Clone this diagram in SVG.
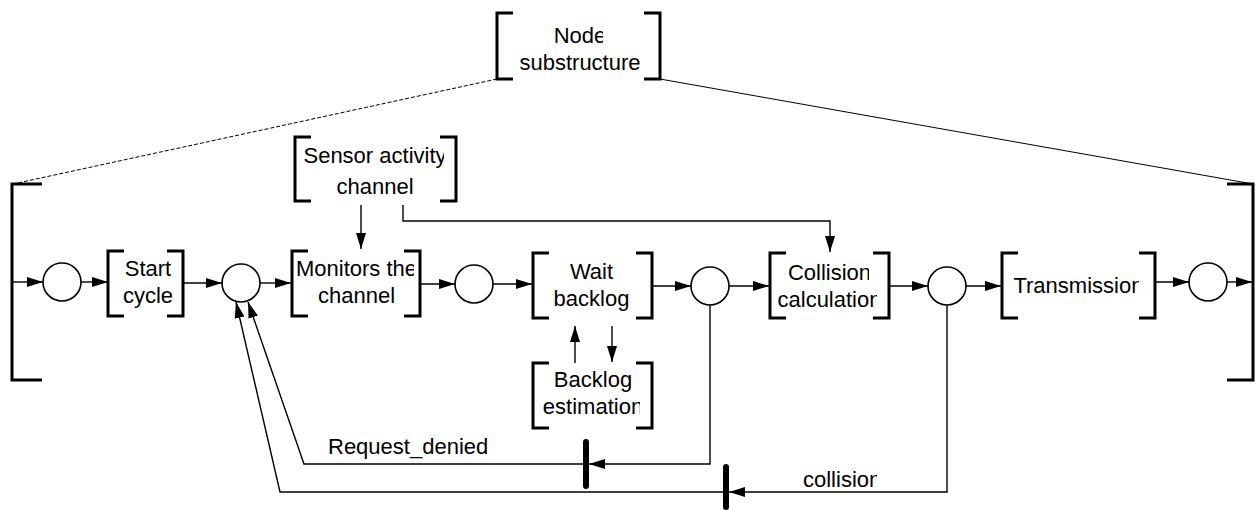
<svg xmlns="http://www.w3.org/2000/svg" width="1255" height="510" viewBox="0 0 1255 510">
  <style>
    .br { fill: none; stroke: #000; stroke-width: 3; stroke-linecap: butt; stroke-linejoin: miter; }
    .pl { fill: #fff; stroke: #000; stroke-width: 1.6; }
    .ln { fill: none; stroke: #000; stroke-width: 1.4; }
    .bar { stroke: #000; stroke-width: 6; stroke-linecap: round; }
    .tx { font-family: "Liberation Sans", Arial, sans-serif; font-size: 22px; fill: #000; }
    .c { text-anchor: middle; }
  </style>
  <defs>
    <marker id="arr" viewBox="0 0 16 10" refX="16" refY="5" markerWidth="16" markerHeight="10" markerUnits="userSpaceOnUse" orient="auto">
      <path d="M0,0 L16,5 L0,10 Z" fill="#000"/>
    </marker>
    <clipPath id="cNode"><rect x="0" y="0" width="603" height="510"/></clipPath>
    <clipPath id="cSensor"><rect x="0" y="0" width="444" height="510"/></clipPath>
    <clipPath id="cMon"><rect x="0" y="0" width="414" height="510"/></clipPath>
    <clipPath id="cColl1"><rect x="0" y="0" width="869" height="510"/></clipPath>
    <clipPath id="cColl2"><rect x="0" y="0" width="877" height="510"/></clipPath>
    <clipPath id="cTrans"><rect x="0" y="0" width="1139" height="510"/></clipPath>
    <clipPath id="cEst"><rect x="0" y="0" width="640" height="510"/></clipPath>
    <clipPath id="cCol"><rect x="0" y="0" width="877" height="510"/></clipPath>
  </defs>

  <rect width="1255" height="510" fill="#fff"/>

  <!-- expansion links from the superstructure node to the detailed net -->
  <g id="expansion">
    <line x1="497" y1="79" x2="13" y2="184" stroke="#000" stroke-width="1" stroke-dasharray="4,2"/>
    <line x1="660" y1="79" x2="1253" y2="184" stroke="#000" stroke-width="1"/>
  </g>

  <g id="node-substructure">
    <path class="br" d="M513,13 H497 V79 H513 M644,13 H660 V79 H644"/>
    <text class="tx c" x="580" y="43" clip-path="url(#cNode)">Node</text>
    <text class="tx c" x="580" y="70">substructure</text>
  </g>

  <g id="outer-left">
    <path class="br" d="M42,184 H12 V380 H42"/>
  </g>
  <g id="outer-right">
    <path class="br" d="M1227,184 H1253 V380 H1227"/>
  </g>

  <g id="sensor-activity">
    <path class="br" d="M311,137 H295 V201 H311 M440,137 H456 V201 H440"/>
    <text class="tx c" x="375" y="163" clip-path="url(#cSensor)">Sensor activity</text>
    <text class="tx c" x="375" y="194">channel</text>
  </g>

  <g id="p1"><circle class="pl" cx="62" cy="282" r="19"/></g>

  <g id="start-cycle">
    <path class="br" d="M124,251 H108 V316 H124 M167,251 H183 V316 H167"/>
    <text class="tx c" x="148" y="276">Start</text>
    <text class="tx c" x="148" y="303">cycle</text>
  </g>

  <g id="p2"><circle class="pl" cx="241" cy="283" r="19"/></g>

  <g id="monitors">
    <path class="br" d="M308,251 H292 V316 H308 M404,251 H420 V316 H404"/>
    <text class="tx c" x="356.5" y="276" clip-path="url(#cMon)">Monitors the</text>
    <text class="tx c" x="356.5" y="303">channel</text>
  </g>

  <g id="p3"><circle class="pl" cx="474" cy="284" r="19"/></g>

  <g id="wait-backlog">
    <path class="br" d="M549,253 H533 V318 H549 M636,253 H652 V318 H636"/>
    <text class="tx c" x="591.5" y="279">Wait</text>
    <text class="tx c" x="591.5" y="306">backlog</text>
  </g>

  <g id="backlog-estimation">
    <path class="br" d="M549,363 H533 V428 H549 M636,363 H652 V428 H636"/>
    <text class="tx c" x="593" y="387">Backlog</text>
    <text class="tx c" x="593" y="414" clip-path="url(#cEst)">estimation</text>
  </g>

  <g id="p4"><circle class="pl" cx="710" cy="286" r="19"/></g>

  <g id="collision-calculation">
    <path class="br" d="M786,253 H770 V318 H786 M873,253 H889 V318 H873"/>
    <text class="tx c" x="829.5" y="280" clip-path="url(#cColl1)">Collision</text>
    <text class="tx c" x="829.5" y="307" clip-path="url(#cColl2)">calculation</text>
  </g>

  <g id="p5"><circle class="pl" cx="947" cy="286" r="19"/></g>

  <g id="transmission">
    <path class="br" d="M1018,253 H1002 V318 H1018 M1139,253 H1155 V318 H1139"/>
    <text class="tx c" x="1078.4" y="293" clip-path="url(#cTrans)">Transmission</text>
  </g>

  <g id="p6"><circle class="pl" cx="1208" cy="282" r="19"/></g>

  <g id="t-request-denied">
    <line class="bar" x1="586" y1="442" x2="586" y2="486"/>
    <text class="tx" x="328" y="454">Request_denied</text>
  </g>

  <g id="t-collision">
    <line class="bar" x1="726" y1="467" x2="726" y2="507"/>
    <text class="tx" x="803" y="487" clip-path="url(#cCol)">collision</text>
  </g>

  <g id="connectors">
    <line class="ln" x1="12" y1="282" x2="43" y2="282" marker-end="url(#arr)"/>
    <line class="ln" x1="81" y1="282" x2="108" y2="282" marker-end="url(#arr)"/>
    <line class="ln" x1="183" y1="283" x2="222" y2="283" marker-end="url(#arr)"/>
    <line class="ln" x1="260" y1="283" x2="291" y2="283" marker-end="url(#arr)"/>
    <line class="ln" x1="361" y1="205" x2="361" y2="249" marker-end="url(#arr)"/>
    <polyline class="ln" points="403,205 403,221 830,221 830,252" marker-end="url(#arr)"/>
    <line class="ln" x1="420" y1="284" x2="455" y2="284" marker-end="url(#arr)"/>
    <line class="ln" x1="493" y1="284" x2="532" y2="284" marker-end="url(#arr)"/>
    <line class="ln" x1="652" y1="286" x2="691" y2="286" marker-end="url(#arr)"/>
    <line class="ln" x1="729" y1="286" x2="769" y2="286" marker-end="url(#arr)"/>
    <line class="ln" x1="889" y1="286" x2="928" y2="286" marker-end="url(#arr)"/>
    <line class="ln" x1="966" y1="286" x2="1001" y2="286" marker-end="url(#arr)"/>
    <line class="ln" x1="1155" y1="282" x2="1189" y2="282" marker-end="url(#arr)"/>
    <line class="ln" x1="1227" y1="282" x2="1252" y2="282" marker-end="url(#arr)"/>
    <line class="ln" x1="575" y1="363" x2="575" y2="326" marker-end="url(#arr)"/>
    <line class="ln" x1="612" y1="326" x2="612" y2="362" marker-end="url(#arr)"/>
    <polyline class="ln" points="710,305 710,464 589,464" marker-end="url(#arr)"/>
    <polyline class="ln" points="586,464 304,464 248,302" marker-end="url(#arr)"/>
    <polyline class="ln" points="947,305 947,492 729,492" marker-end="url(#arr)"/>
    <polyline class="ln" points="726,492 280,492 236,302" marker-end="url(#arr)"/>
  </g>
</svg>
